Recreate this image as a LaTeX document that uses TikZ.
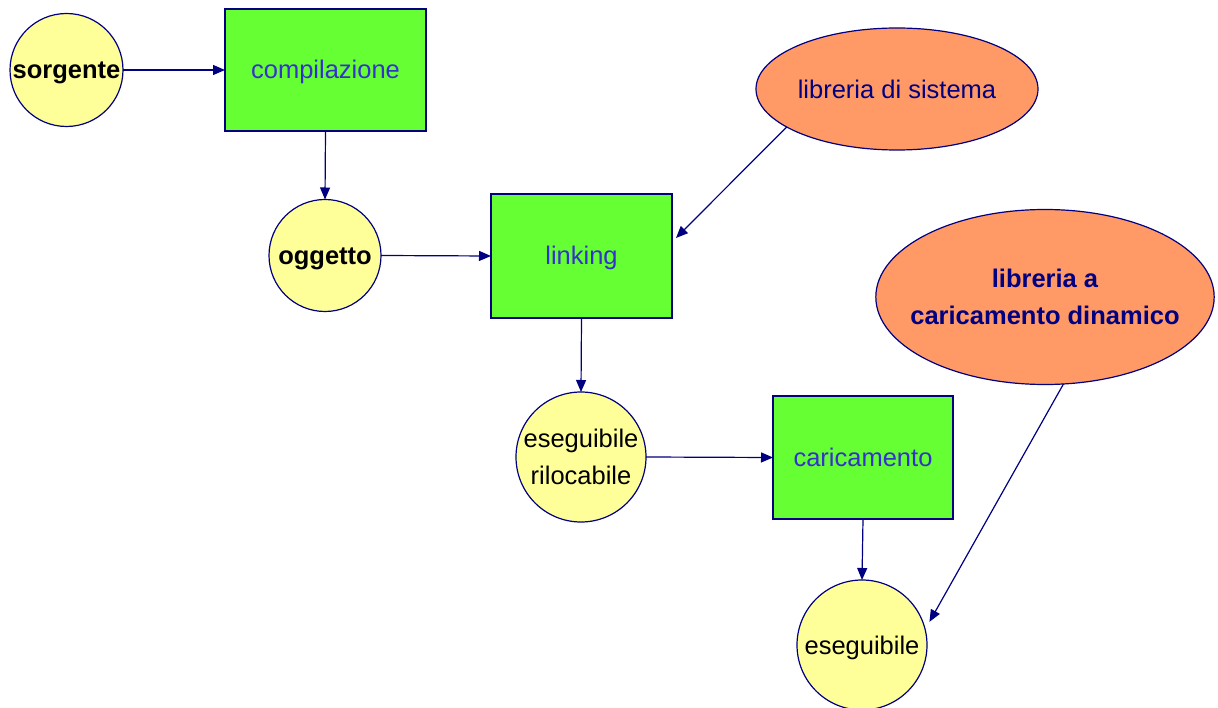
\documentclass[tikz,border=0pt]{standalone}
\usepackage{fontspec}
\setmainfont{Liberation Sans}
\usetikzlibrary{arrows.meta,shapes.geometric}
\definecolor{nodeyellow}{HTML}{FFFF99}
\definecolor{stepgreen}{HTML}{66FF33}
\definecolor{liborange}{HTML}{FF9966}
\definecolor{edgenavy}{HTML}{000080}
\definecolor{steptext}{HTML}{3333CC}
\begin{document}
\begin{tikzpicture}[x=1pt,y=-1pt,inner sep=0pt,outer sep=0pt,line width=1.2pt,
>={Triangle[length=12pt,width=10pt]},
every node/.style={font=\fontsize{25.5}{37}\selectfont},
oneline/.style={text height=19pt,text depth=1pt},
filebox/.style={draw=edgenavy,fill=nodeyellow,circle,align=center,line width=1.2pt},
stepbox/.style={draw=edgenavy,fill=stepgreen,rectangle,text=steptext,oneline,line width=1.2pt},
libbox/.style={draw=edgenavy,fill=liborange,ellipse,text=edgenavy,align=center,line width=1.2pt}]
\useasboundingbox (0,0) rectangle (1218,708);

\draw (66.5,70) node[filebox,oneline,minimum size=113pt] (src) {\bfseries sorgente};
\draw (325.5,70) node[stepbox,minimum width=201pt,minimum height=122pt] (comp) {compilazione};
\draw (325,255.5) node[filebox,oneline,minimum size=112pt] (obj) {\bfseries oggetto};
\draw (581.5,256) node[stepbox,minimum width=181pt,minimum height=124pt] (link) {linking};
\draw (897,89) node[libbox,minimum width=282pt,minimum height=122pt] (syslib) {libreria di sistema};
\draw (1045,297) node[libbox,minimum width=338pt,minimum height=175pt,inner xsep=-15pt] (dynlib) {\bfseries libreria a\\\bfseries caricamento dinamico};
\draw (581,457) node[filebox,minimum size=130pt] (reloc) {eseguibile\\rilocabile};
\draw (863,457.5) node[stepbox,minimum width=180pt,minimum height=123pt] (load) {caricamento};
\draw (862,645) node[filebox,oneline,minimum size=130pt] (exe) {eseguibile};

\draw[->,edgenavy] (src.0) -- (comp.180);
\draw[->,edgenavy] (comp.-90) -- (obj.90);
\draw[->,edgenavy] (obj.0) -- (link.180);
\draw[->,edgenavy] (syslib.199) -- ([xshift=4pt,yshift=18pt]link.0);
\draw[->,edgenavy] (link.-90) -- (reloc.90);
\draw[->,edgenavy] (reloc.0) -- (load.180);
\draw[->,edgenavy] (load.-90) -- (exe.90);
\draw[->,edgenavy] (dynlib.282) -- ([xshift=6pt,yshift=2pt]exe.19);
\end{tikzpicture}
\end{document}
